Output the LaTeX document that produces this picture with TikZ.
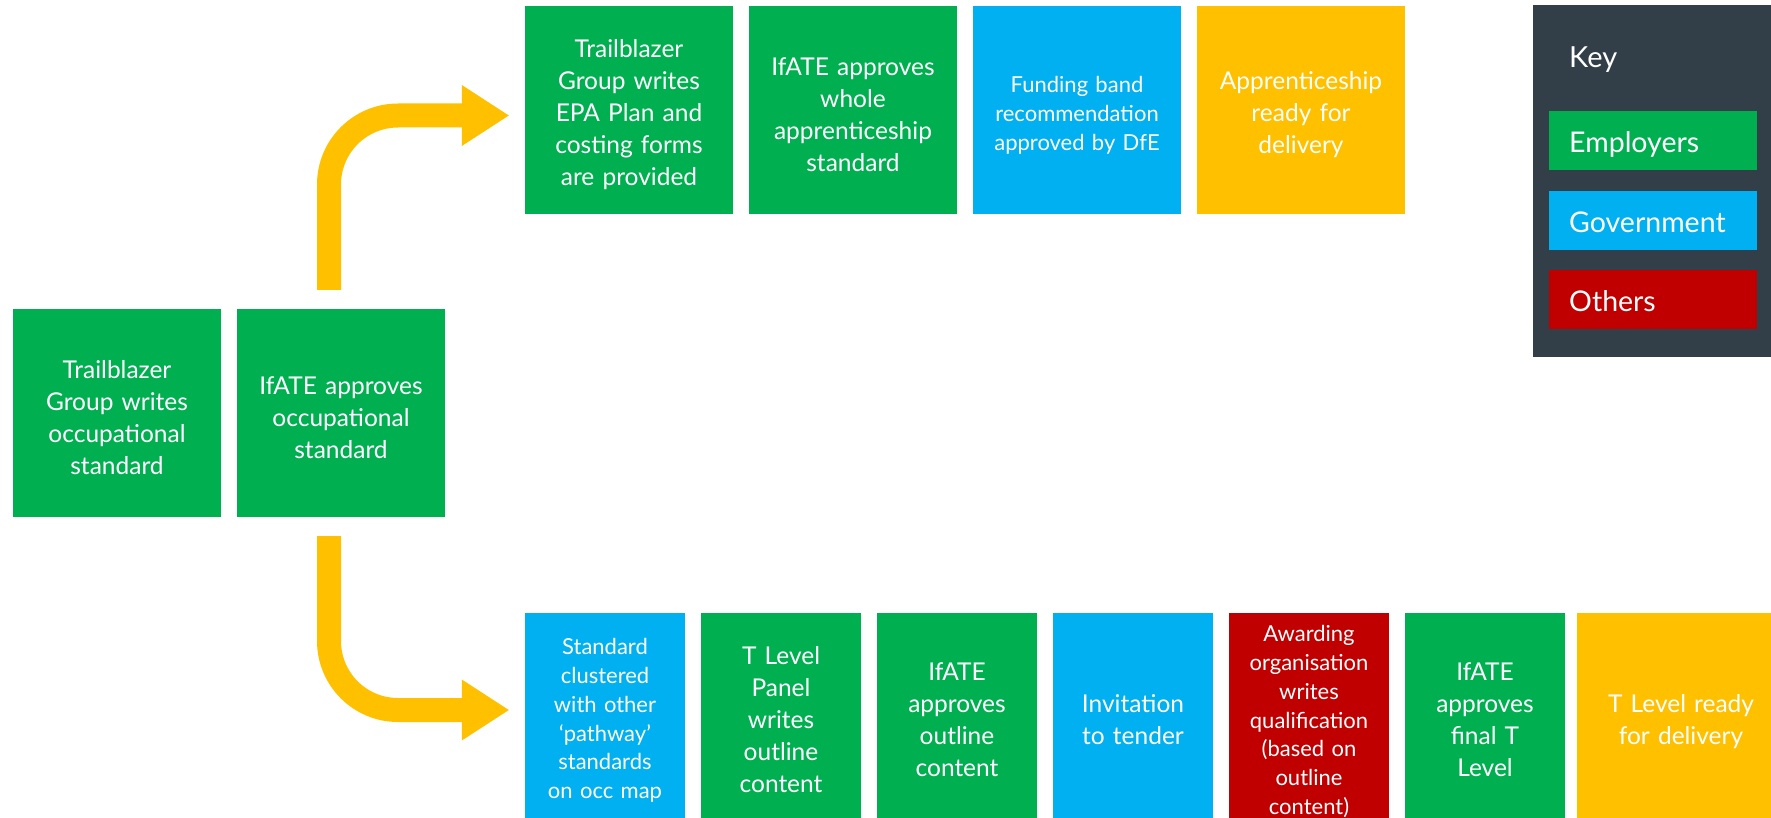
\documentclass[tikz,border=0pt]{standalone}
\usepackage{fontspec}
\setmainfont{Lato}
\usetikzlibrary{arrows.meta,calc}

\definecolor{empgreen}{RGB}{0,176,80}
\definecolor{govblue}{RGB}{0,176,240}
\definecolor{otherred}{RGB}{192,0,0}
\definecolor{readyyellow}{RGB}{255,192,0}
\definecolor{keyslate}{RGB}{51,63,72}

\begin{document}
\begin{tikzpicture}[x=1pt,y=-1pt,
  box/.style={inner sep=0pt, align=center, text=white,
              font=\fontsize{24.5}{32}\selectfont},
  % strut on the first line: sets where the text block sits in its box
  firstline/.style={execute at begin node={\rule{0pt}{#1}}},
  sq/.style={box, text width=200pt, minimum width=208pt, minimum height=208pt, firstline=27pt},
  tall/.style={box, text width=156pt, minimum width=160pt, minimum height=210pt, firstline=20.6pt},
  smalltext/.style={font=\fontsize{22}{28.8}\selectfont, firstline=21pt},
  flow/.style={draw=readyyellow, line width=24pt, rounded corners=69pt,
               -{Triangle[length=47pt,width=61pt,line width=0pt]}},
  keyitem/.style={anchor=north west, minimum height=59pt, text width=168pt,
                  inner xsep=20pt, inner ysep=0pt, align=left, text=white,
                  text height=24pt, text depth=0pt,
                  font=\fontsize{28.5}{34}\selectfont}
]
\useasboundingbox (0,0) rectangle (1771,818);
\clip (0,0) rectangle (1771,818);

% occupational standard
\node[sq, firstline=20pt, fill=empgreen] (tbw) at (117,413) {Trailblazer\\Group writes\\occupational\\standard};
\node[sq, firstline=20pt, fill=empgreen] (ifa) at (341,413) {IfATE approves\\occupational\\standard};

% apprenticeship route
\node[sq, fill=empgreen] (ap1) at (629,110) {Trailblazer\\Group writes\\EPA Plan and\\costing forms\\are provided};
\node[sq, firstline=25.5pt, fill=empgreen] (ap2) at (853,110) {IfATE approves\\whole\\apprenticeship\\standard};
\node[sq, fill=govblue, font=\fontsize{22}{29.2}\selectfont, firstline=23.3pt] (ap3) at (1077,110) {Funding band\\recommendation\\approved by DfE};
\node[sq, fill=readyyellow] (ap4) at (1301,110) {Apprenticeship\\ready for\\delivery};

% T Level route
\node[tall, fill=govblue, smalltext] (tl1) at (605,718) {Standard\\clustered\\with other\\`pathway'\\standards\\on occ map};
\node[tall, fill=empgreen] (tl2) at (781,718) {T Level\\Panel\\writes\\outline\\content};
\node[tall, fill=empgreen] (tl3) at (957,718) {IfATE\\approves\\outline\\content};
\node[tall, fill=govblue] (tl4) at (1133,718) {Invitation\\to tender};
\node[tall, fill=otherred, smalltext, firstline=23.3pt] (tl5) at (1309,718) {Awarding\\organisation\\writes\\qualification\\(based on\\outline\\content)};
\node[tall, fill=empgreen] (tl6) at (1485,718) {IfATE\\approves\\final T\\Level};
\node[tall, fill=readyyellow, minimum width=208pt, firstline=25pt] (tl7) at (1681,718) {T Level ready\\for delivery};

% branching arrows
\coordinate (upstart) at ($(ifa.north)+(-12,-19)$);
\coordinate (uptip) at ($(ap1.west)+(-16,5.5)$);
\coordinate (downstart) at ($(ifa.south)+(-12,19)$);
\coordinate (downtip) at ($(tl1.west)+(-16,-8)$);
\draw[flow] (upstart) |- (uptip);
\draw[flow] (downstart) |- (downtip);

% key
\node[anchor=north west, fill=keyslate, minimum width=250pt, minimum height=352pt, inner sep=0pt] (keypanel) at (1533,5) {};
\node[anchor=base west, inner sep=0pt, text=white, font=\fontsize{29}{34}\selectfont] (keytitle) at (1569,68) {Key};
\node[keyitem, fill=empgreen] (kemp) at (1549,111) {Employers};
\node[keyitem, fill=govblue] (kgov) at (1549,191) {Government};
\node[keyitem, fill=otherred] (koth) at (1549,270) {Others};
\end{tikzpicture}
\end{document}
